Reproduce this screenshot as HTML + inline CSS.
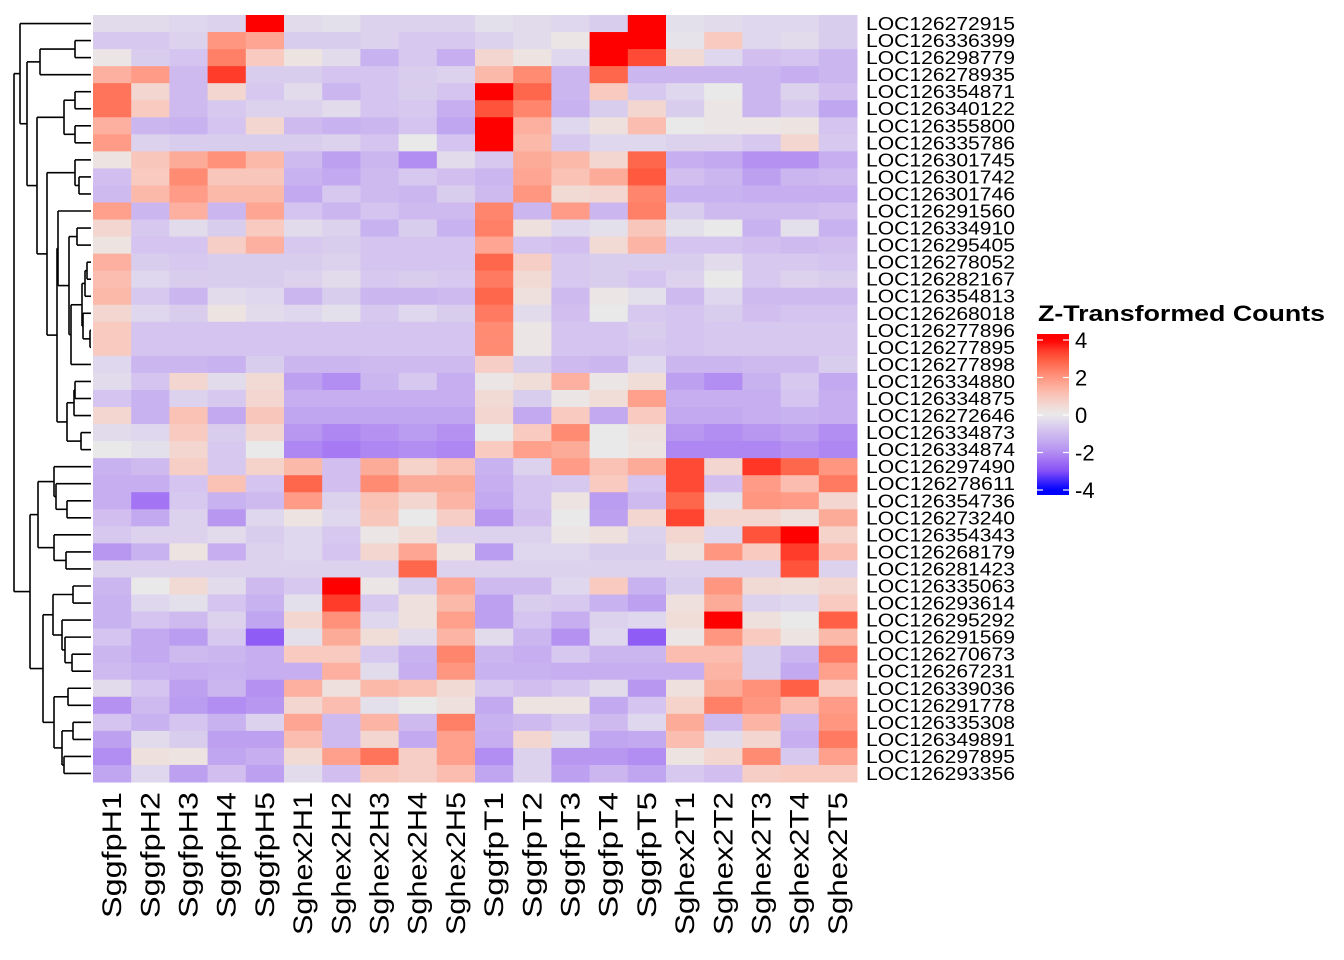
<!DOCTYPE html>
<html><head><meta charset="utf-8"><style>
html,body{margin:0;padding:0;background:#fff;}
svg{display:block;font-family:"Liberation Sans",Arial,sans-serif;}
</style></head><body>
<svg id="chart" width="1344" height="960" viewBox="0 0 1344 960" xmlns="http://www.w3.org/2000/svg">
<defs>
<linearGradient id="lg" x1="0" y1="1" x2="0" y2="0"></linearGradient>
</defs>
<g id="cells"></g>
<g id="dendro"></g>
<g id="rowlabels"></g>
<g id="collabels"></g>
<g id="legend">
<text x="1038" y="321" font-size="22" font-weight="bold" textLength="287" lengthAdjust="spacingAndGlyphs">Z-Transformed Counts</text>
<rect x="1037" y="334" width="32" height="161" fill="url(#lg)"></rect>
</g>
</svg>
<script>
const rowNames = ["LOC126272915","LOC126336399","LOC126298779","LOC126278935","LOC126354871","LOC126340122","LOC126355800","LOC126335786","LOC126301745","LOC126301742","LOC126301746","LOC126291560","LOC126334910","LOC126295405","LOC126278052","LOC126282167","LOC126354813","LOC126268018","LOC126277896","LOC126277895","LOC126277898","LOC126334880","LOC126334875","LOC126272646","LOC126334873","LOC126334874","LOC126297490","LOC126278611","LOC126354736","LOC126273240","LOC126354343","LOC126268179","LOC126281423","LOC126335063","LOC126293614","LOC126295292","LOC126291569","LOC126270673","LOC126267231","LOC126339036","LOC126291778","LOC126335308","LOC126349891","LOC126297895","LOC126293356"];
const colNames = ["SggfpH1","SggfpH2","SggfpH3","SggfpH4","SggfpH5","Sghex2H1","Sghex2H2","Sghex2H3","Sghex2H4","Sghex2H5","SggfpT1","SggfpT2","SggfpT3","SggfpT4","SggfpT5","Sghex2T1","Sghex2T2","Sghex2T3","Sghex2T4","Sghex2T5"];
const zValues = [
[-0.3,-0.3,-0.4,-0.5,4,-0.3,-0.2,-0.5,-0.5,-0.5,-0.2,-0.3,-0.4,-0.6,4,-0.2,-0.3,-0.4,-0.4,-0.6],
[-0.7,-0.7,-0.5,2,1.7,-0.6,-0.6,-0.5,-0.7,-0.7,-0.5,-0.3,0.1,4,4,-0.1,0.9,-0.4,-0.3,-0.6],
[0.1,-0.6,-0.8,2.4,0.9,0.2,-0.3,-1.2,-0.7,-1.3,0.6,0.2,-0.4,4,3.2,0.5,-0.4,-0.9,-0.8,-1.1],
[1.5,1.9,-1,3.4,-0.6,-0.6,-0.8,-0.8,-0.6,-0.5,1.3,2.2,-1.1,2.8,-1.1,-1.1,-1.1,-1.1,-1.3,-1.1],
[2.6,0.6,-1,0.6,-0.7,-0.3,-1.1,-0.8,-0.6,-0.8,4,2.8,-1.1,0.9,-0.7,-0.4,0,-1.1,-0.5,-0.9],
[2.6,0.9,-1,-0.7,-0.5,-0.5,-0.3,-0.8,-0.7,-1.3,3.1,2.3,-1.2,-0.6,0.6,-0.6,0.1,-1.1,-0.7,-1.5],
[1.5,-1.1,-1.2,-0.8,0.6,-1,-1.2,-1.1,-0.8,-1.5,4,1.5,-0.4,0.3,1.2,0,0.1,0.1,0.2,-0.8],
[1.9,-0.5,-0.6,-0.6,-0.6,-0.6,-0.5,-0.8,0,-0.8,4,1.3,-0.7,-0.4,-0.4,-0.5,-0.5,-0.7,0.6,-0.7],
[0.2,1,1.6,2.1,1.3,-1,-1.6,-1.1,-2,-0.3,-0.7,1.6,1.3,0.6,2.8,-1.3,-1.4,-1.9,-1.9,-1.3],
[-0.9,0.9,2.2,1,1,-1.2,-1.4,-1,-0.7,-0.9,-1.1,1.7,1.1,1.6,3,-0.9,-1.1,-1.6,-1.1,-1],
[-1,1.3,1.9,1.3,1.3,-1.4,-0.7,-1,-1.1,-0.6,-1,2,0.5,0.6,2.3,-1.2,-1.2,-1.3,-1.3,-1.3],
[1.8,-1.1,1.5,-1.1,1.7,-0.8,-1.1,-0.8,-1,-1,2.3,-1.1,1.9,-1.1,2.4,-0.6,-1,-1,-1,-0.9],
[0.6,-0.7,-0.3,-0.6,0.9,-0.3,-0.5,-1.2,-0.6,-1.2,2.4,0.3,-0.4,-0.2,1,-0.2,0,-1.2,-0.2,-1.2],
[0.2,-0.8,-0.8,0.8,1.5,-0.7,-0.6,-0.8,-0.8,-0.8,1.7,-0.8,-0.9,0.5,1.4,-0.8,-0.8,-0.9,-1,-0.9],
[1.5,-0.6,-0.7,-0.6,-0.6,-0.6,-0.5,-0.8,-0.8,-0.8,2.8,0.8,-0.7,-0.6,-0.6,-0.6,-0.3,-0.7,-0.7,-0.8],
[1.2,-0.4,-0.6,-0.6,-0.6,-0.5,-0.3,-0.7,-0.6,-0.7,2.5,0.5,-0.7,-0.6,-0.8,-0.5,0,-0.7,-0.5,-0.6],
[1.3,-0.7,-1.1,-0.3,-0.4,-1.1,-0.6,-1.1,-1.1,-1,2.8,0.3,-1,0.1,-0.2,-1,-0.4,-1,-1,-1],
[0.6,-0.4,-0.6,0.2,-0.3,-0.4,-0.2,-0.7,-0.4,-0.6,2.5,-0.3,-0.9,0,-0.7,-0.8,-0.6,-0.9,-0.8,-0.8],
[0.9,-0.8,-0.8,-0.8,-0.8,-0.8,-0.8,-0.8,-0.8,-0.8,2.2,0.1,-0.8,-0.8,-0.6,-0.8,-0.7,-0.7,-0.7,-0.7],
[0.9,-0.8,-0.8,-0.8,-0.8,-0.8,-0.8,-0.8,-0.8,-0.8,2.2,0.1,-0.8,-0.8,-0.7,-0.8,-0.7,-0.7,-0.7,-0.7],
[-0.4,-1.1,-1.1,-1.2,-0.6,-1.1,-1.1,-1,-1,-1,0.8,-0.6,-1,-1.1,-0.4,-1.1,-1.1,-1,-1,-0.6],
[-0.3,-0.8,0.6,-0.3,0.5,-1.6,-2,-1.1,-0.7,-1.3,0.1,0.4,1.5,0.1,0.4,-1.6,-2,-1.2,-0.7,-1.4],
[-0.8,-1.2,-0.5,-0.7,0.6,-1.3,-1.3,-1.3,-1.3,-1.3,0.5,-0.6,0.1,0.4,1.8,-1.3,-1.3,-1.3,-0.8,-1.3],
[0.6,-1.2,1.1,-1.4,1,-1.5,-1.5,-1.5,-1.5,-1.5,0.6,-1.4,0.9,-1.4,0.9,-1.4,-1.4,-1.3,-1.2,-1.3],
[-0.3,-0.4,0.9,-0.6,0.6,-1.8,-2.1,-1.9,-1.7,-1.9,0,0.9,2.2,0,0.3,-1.8,-2,-1.8,-1.6,-2],
[0,-0.2,0.6,-0.7,0,-2.1,-2.3,-2.1,-2,-2.1,0.9,1.8,1.6,0,0.2,-2.1,-2.1,-2.1,-1.9,-2.1],
[-1.2,-1,0.8,-0.7,0.7,1.3,-0.9,1.6,0.7,1.1,-1.2,-0.5,1.9,1.1,1.6,3.2,0.6,3.5,2.8,2],
[-1.3,-1.3,-0.8,1.1,-0.8,2.8,-0.9,2.2,1.6,1.6,-1.3,-0.8,-0.7,0.9,-0.8,3.2,-0.9,1.9,1.2,2.5],
[-1.3,-2.4,-0.7,-1.2,-1,1.9,-0.5,1.1,0.6,1.4,-1.4,-0.8,0.2,-1.7,-1,2.8,-0.2,2,1.9,0.6],
[-0.9,-1.4,-0.5,-1.8,-0.4,0.2,-0.4,1,0,0.8,-1.8,-0.9,0,-1.6,0.6,3.3,0.6,0.6,0.3,1.6],
[-0.7,-0.5,-0.5,-0.3,-0.6,-0.4,-0.7,0.1,0.4,-0.5,-0.5,-0.5,0.1,0.3,-0.5,0.6,-0.4,3.1,4,0.7],
[-1.8,-1.2,0.2,-1.3,-0.5,-0.4,-0.8,0.6,1.7,0.2,-1.7,-0.4,-0.4,-0.6,-0.6,0.3,2,0.9,3.4,1.2],
[-0.5,-0.5,-0.5,-0.5,-0.5,-0.5,-0.5,-0.5,2.8,-0.5,-0.5,-0.5,-0.5,-0.5,-0.5,-0.5,-0.5,-0.5,3.1,-0.5],
[-1.1,0,0.5,-0.3,-1,-0.7,4,0.1,-0.6,1.7,-1,-1,-0.4,0.9,-1.2,-0.6,2,0.5,0.4,0.6],
[-1.2,-0.4,-0.2,-0.8,-1.2,-0.2,3.4,-0.7,0.3,1.3,-1.6,-0.6,-0.7,-1.2,-1.6,0.3,1.6,-0.5,-0.4,0.9],
[-1.2,-0.8,-1,-0.5,-1.5,0.6,2.1,-0.4,0.3,1.8,-1.6,-0.8,-1.3,-0.5,-0.4,0.4,4,0.3,0,2.9],
[-0.8,-1.4,-1.7,-0.7,-2.8,-0.2,1.6,0.4,-0.3,1.4,-0.3,-1.1,-1.9,-0.4,-2.8,0.1,2,0.9,0.2,1.3],
[-1.1,-1.4,-1,-1.1,-1.3,0.9,0.9,-0.7,-1.2,2.3,-1.1,-1.3,-0.7,-1.1,-1.1,1.2,1.2,-0.6,-1.1,2.5],
[-1,-1.2,-1.3,-1.2,-1.3,-1.3,1.5,-0.3,-1.3,2,-1.2,-1.2,-1.3,-1.3,-1.3,-1.3,1.4,-0.6,-1.4,1.8],
[-0.3,-0.8,-1.6,-1.1,-1.9,1.5,0.3,1.3,1.1,0.5,-0.7,-0.9,-0.7,-0.3,-1.8,0.3,1.6,2.1,2.9,0.9],
[-1.9,-1,-1.7,-2,-1.8,0.6,1.2,-0.2,0,0.3,-1.4,0.2,0.2,-1.4,-0.8,0.7,2.4,2,1.2,1.9],
[-0.8,-1.2,-0.8,-1.2,-0.5,1.7,-1,1.4,-1,2.4,-1.2,-1,-0.7,-1,-0.4,1.6,-1,1.4,-1.1,2],
[-1.6,-0.3,-0.6,-1.6,-1.6,1.2,-1,0.6,-1.4,1.8,-1.3,0.6,-0.3,-1.5,-1.4,1.2,-0.3,0.6,-1.3,2.5],
[-2,0.3,0.2,-1.5,-1.3,0.5,1.8,2.6,0.8,1.8,-2,-0.5,-1.8,-1.8,-2,0.2,0.6,2.2,-0.7,1.8],
[-1.5,-0.4,-1.6,-0.9,-1.6,-0.3,-0.9,1,0.8,1.2,-1.5,-0.5,-1.6,-1.1,-1.5,-0.7,-0.9,0.8,0.9,0.9]
];
const legendTicks = [4,2,0,-2,-4];
// dendrogram: [left, right, height(px position)]
const rowTree = [[0,[[[1,2,75],3,40],[[[4,5,75],[6,7,75],64],[[8,[9,10,79],75],[[11,[[12,13,77],[[[[14,15,87],16,85],[17,[18,19,90],83],82],20,71],69],58],[[[21,22,75],23,74],[24,25,81],67],57],47],37],27],20],
 [[[26,[27,[28,29,67],56],54],[30,[31,32,66],54],38],[[[33,34,73],[35,[36,[37,38,72],65],62],53],[[39,40,68],[[41,42,73],[43,44,64],62],54],43],30],14];

const NS="http://www.w3.org/2000/svg";
const X0=93,X1=857,Y0=15,Y1=782;
const cw=(X1-X0)/colNames.length, rh=(Y1-Y0)/rowNames.length;
const xPos=j=>X0+cw*j, yPos=i=>Y0+rh*i, yMid=i=>Y0+rh*(i+0.5);
const stops=[[-4,[0,0,255]],[-3,[133,80,246]],[-2.5,[159,110,244]],[-2,[178,141,242]],[-1.5,[192,166,240]],[-1,[207,186,240]],[-0.5,[220,210,238]],[0,[233,233,233]],[0.5,[242,218,212]],[1,[249,198,187]],[1.5,[253,176,159]],[2,[255,150,128]],[2.5,[255,122,96]],[3,[255,90,64]],[3.5,[255,53,37]],[4,[255,0,0]]];
function col(v){
  if(v<=stops[0][0]) return rgb(stops[0][1]);
  for(let k=1;k<stops.length;k++){
    if(v<=stops[k][0]){const a=stops[k-1],b=stops[k],t=(v-a[0])/(b[0]-a[0]);
      return rgb(a[1].map((c,i)=>Math.round(c+(b[1][i]-c)*t)));}
  }
  return rgb(stops[stops.length-1][1]);
}
function rgb(a){return "rgb("+a.join(",")+")";}
function mk(tag,attrs,parent){const e=document.createElementNS(NS,tag);for(const k in attrs)e.setAttribute(k,attrs[k]);parent.appendChild(e);return e;}

const cells=document.getElementById("cells");
zValues.forEach((row,i)=>row.forEach((v,j)=>{
  const r=mk("rect",{x:xPos(j),y:yPos(i),width:cw+0.5,height:rh+0.5,fill:col(v)},cells);
  
  
}));

const rl=document.getElementById("rowlabels");
rowNames.forEach((n,i)=>{
  const t=mk("text",{x:866,y:yMid(i)+6.5,"font-size":18.5,textLength:149,lengthAdjust:"spacingAndGlyphs"},rl);
  t.textContent=n;
  
  
});

const cl=document.getElementById("collabels");
colNames.forEach((n,j)=>{
  const cx=xPos(j)+cw/2+9;
  const len=n.startsWith("Sghex")?143:126;
  const t=mk("text",{x:0,y:0,"font-size":27,"text-anchor":"end",textLength:len,lengthAdjust:"spacingAndGlyphs",transform:"translate("+cx+",792) rotate(-90)"},cl);
  t.textContent=n;
  
  
});

const dg=document.getElementById("dendro");
const LEAFX=91;
function line(x1,y1,x2,y2){
  const l=mk("line",{x1,y1,x2,y2,stroke:"#000","stroke-width":1.6},dg);
  
  
}
function draw(node){
  if(typeof node==="number") return {x:LEAFX,y:yMid(node)};
  const a=draw(node[0]),b=draw(node[1]),h=node[2];
  line(h,a.y,a.x,a.y); line(h,b.y,b.x,b.y); line(h,a.y,h,b.y);
  return {x:h,y:(a.y+b.y)/2};
}
draw(rowTree);

// legend
const vTop=4.32,vBot=-4.27;
const lg=document.getElementById("lg");
for(let k=0;k<=40;k++){
  const v=vBot+(vTop-vBot)*k/40;
  mk("stop",{offset:(k/40),"stop-color":col(v)},lg);
}
const leg=document.getElementById("legend");
const ly=v=>415-v*18.75;
legendTicks.forEach(v=>{
  const y=ly(v);
  const a=mk("line",{x1:1037,y1:y,x2:1043,y2:y,stroke:"#fff","stroke-width":1.2},leg);
  
  
  const b=mk("line",{x1:1063,y1:y,x2:1069,y2:y,stroke:"#fff","stroke-width":1.2},leg);
  
  
  const t=mk("text",{x:1075,y:y+8,"font-size":22},leg);
  t.textContent=String(v);
  
  
});
</script>
</body></html>
